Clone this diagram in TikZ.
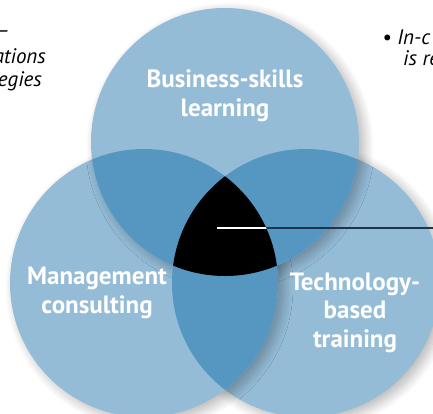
\documentclass[tikz,border=0pt]{standalone}
\usepackage{fontspec}
\setmainfont{PT Sans}
\usetikzlibrary{shadows.blur}
\definecolor{venlight}{RGB}{148,188,215}
\definecolor{vendark}{RGB}{86,151,194}
\definecolor{venline}{RGB}{28,52,78}

\begin{document}
\begin{tikzpicture}[x=1pt, y=-1pt,
  ring/.style={fill=venlight, blur shadow={shadow xshift=5pt, shadow yshift=-4pt, shadow blur radius=10pt, shadow blur steps=14, shadow opacity=30}},
  venlabel/.style={text=white, font=\fontsize{25}{28.5}\selectfont\bfseries, align=center, anchor=base, inner sep=0pt},
  sidetext/.style={font=\fontsize{21}{24}\selectfont\itshape, inner sep=0pt}]
\useasboundingbox (0,0) rectangle (433,413);
\clip (0,0) rectangle (433,413);

\coordinate (learn) at (225,142);
\coordinate (mgmt) at (144,283);
\coordinate (tech) at (306,283);

% the three circles
\fill[ring] (tech) circle (134pt);
\fill[ring] (mgmt) circle (134pt);
\fill[ring] (learn) circle (134pt);

% overlaps
\begin{scope}
\clip (learn) circle (134pt);
\fill[vendark] (mgmt) circle (134pt);
\fill[vendark] (tech) circle (134pt);
\end{scope}
\begin{scope}
\clip (mgmt) circle (134pt);
\fill[vendark] (tech) circle (134pt);
\end{scope}
\begin{scope}
\clip (mgmt) circle (134pt);
\clip (tech) circle (134pt);
\fill[black] (learn) circle (134pt);
\end{scope}

% callout line
\coordinate (core) at (217,228);
\coordinate (callout) at (433,228);
\draw[venline, line width=1.2pt] (core) -- (callout);
\begin{scope}
\clip (mgmt) circle (134pt);
\clip (tech) circle (134pt);
\clip (learn) circle (134pt);
\draw[white, line width=1.2pt] (core) -- (callout);
\end{scope}

% base anchor sits on the last line
\node[venlabel] (learntext) at (225,116) {Business-skills\\learning};
\node[venlabel] (mgmttext) at (97,313) {Management\\consulting};
\node[venlabel] (techtext) at (355,347) {Technology-\\based\\training};

\node[sidetext, anchor=base east] (dash) at (10,37) {—};
\node[sidetext, anchor=base east] (ations) at (46,63) {ations};
\node[sidetext, anchor=base east] (egies) at (42,86) {egies};
\node[sidetext, anchor=base west] (bullet) at (382,44) {• In-c};
\node[sidetext, anchor=base west] (isre) at (403,65) {is re};
\end{tikzpicture}
\end{document}
